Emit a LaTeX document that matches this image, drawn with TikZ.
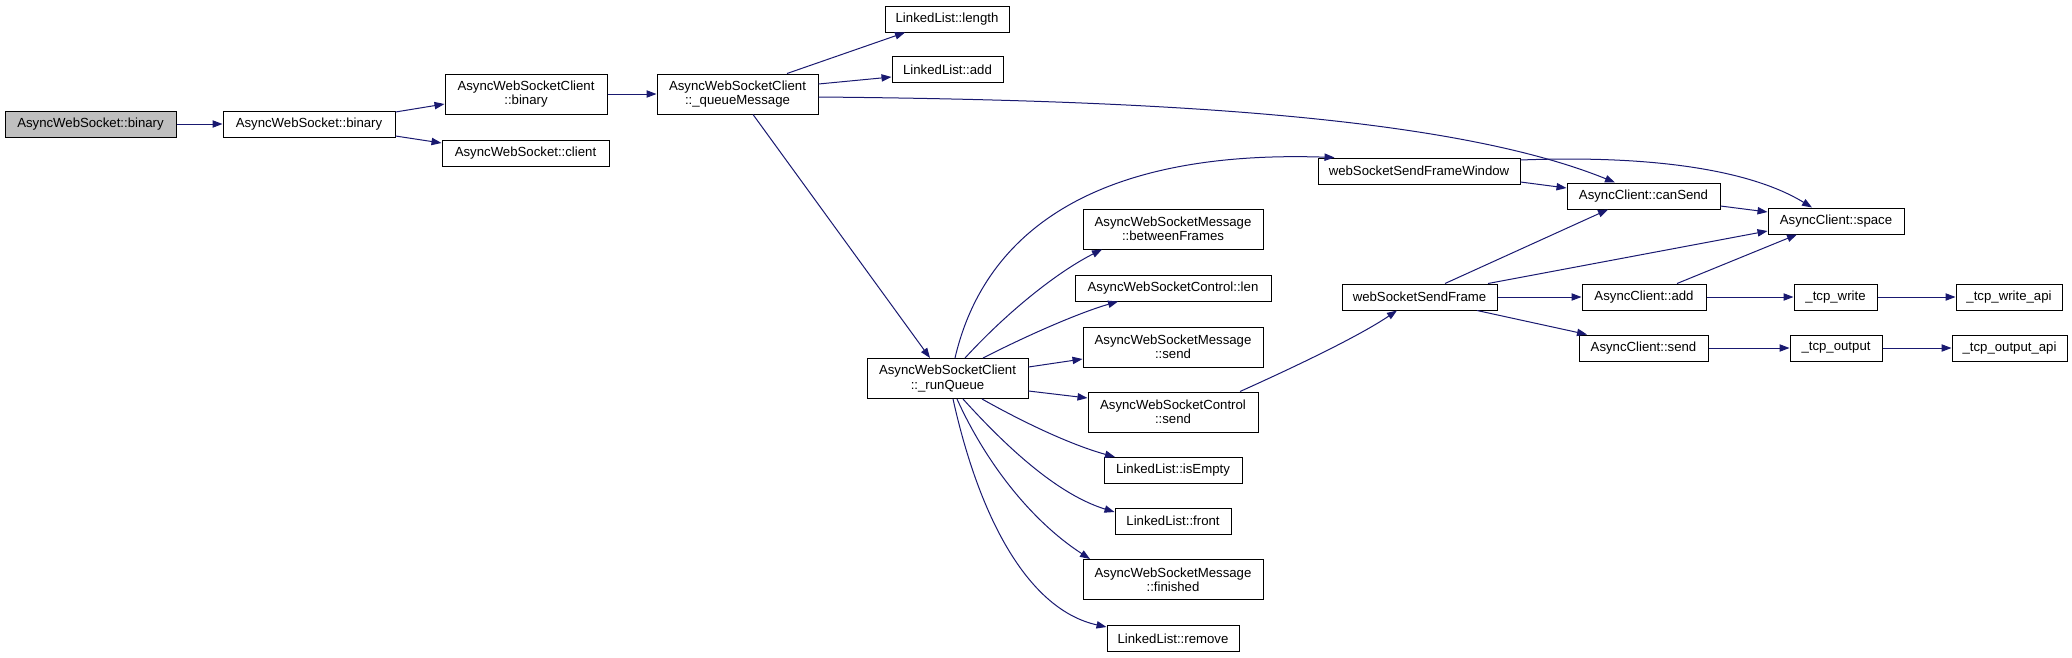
\documentclass[tikz,border=0pt]{standalone}
\usepackage{fontspec}
\setmainfont{Liberation Sans}
\usetikzlibrary{arrows.meta, calc}
\definecolor{edgeblue}{HTML}{191970}
\definecolor{rootgray}{HTML}{BFBFBF}

\begin{document}
\begin{tikzpicture}[x=0.75pt, y=0.75pt,
  fn/.style={draw=black, fill=white, line width=0.75pt, inner sep=0pt,
             align=center, font=\fontsize{9.9}{10.8}\selectfont,
             minimum height=19.5pt},
  fntwo/.style={fn, minimum height=30pt},
  call/.style={draw=edgeblue, line width=0.75pt,
               -{Triangle[length=7.5pt, width=5.5pt]}}]
  \useasboundingbox (0,0) rectangle (2072,-657);
  % Root
  \node[fn, fill=rootgray, minimum width=128.25pt] (root) at (90.5,-124) {AsyncWebSocket::binary};
  \node[fn, minimum width=129pt] (awsBinary) at (309,-124) {AsyncWebSocket::binary};
  \node[fntwo, minimum width=121.5pt] (clientBinary) at (526,-94) {AsyncWebSocketClient\\::binary};
  \node[fn, minimum width=125.25pt] (awsClient) at (525.5,-153) {AsyncWebSocket::client};
  \node[fntwo, minimum width=120.75pt] (queueMsg) at (737.5,-94) {AsyncWebSocketClient\\::\_queueMessage};
  \node[fn, minimum width=93pt] (llLength) at (947,-19) {LinkedList::length};
  \node[fn, minimum width=83.25pt] (llAdd) at (947.5,-69.5) {LinkedList::add};
  \node[fntwo, minimum width=120.75pt] (runQueue) at (947.5,-378.5) {AsyncWebSocketClient\\::\_runQueue};
  % Callees of _runQueue
  \node[fntwo, minimum width=135pt] (betweenFrames) at (1173,-229) {AsyncWebSocketMessage\\::betweenFrames};
  \node[fn, minimum width=147pt] (ctrlLen) at (1173,-288) {AsyncWebSocketControl::len};
  \node[fntwo, minimum width=135pt] (msgSend) at (1173,-347) {AsyncWebSocketMessage\\::send};
  \node[fntwo, minimum width=127.5pt] (ctrlSend) at (1173,-412) {AsyncWebSocketControl\\::send};
  \node[fn, minimum width=103.5pt] (isEmpty) at (1173,-470.5) {LinkedList::isEmpty};
  \node[fn, minimum width=87pt] (front) at (1173,-521) {LinkedList::front};
  \node[fntwo, minimum width=135pt] (finished) at (1173,-579.5) {AsyncWebSocketMessage\\::finished};
  \node[fn, minimum width=99pt] (remove) at (1173,-638.5) {LinkedList::remove};
  % Frame senders
  \node[fn, minimum width=151.5pt] (window) at (1419,-171) {webSocketSendFrameWindow};
  \node[fn, minimum width=116.25pt] (sendFrame) at (1419.5,-297) {webSocketSendFrame};
  % AsyncClient
  \node[fn, minimum width=114.75pt] (canSend) at (1643.5,-196) {AsyncClient::canSend};
  \node[fn, minimum width=93pt] (acAdd) at (1644,-297) {AsyncClient::add};
  \node[fn, minimum width=96.75pt] (acSend) at (1643.5,-348) {AsyncClient::send};
  \node[fn, minimum width=102pt] (space) at (1836,-221) {AsyncClient::space};
  \node[fn, minimum width=62.25pt] (tcpWrite) at (1835.5,-297) {\_tcp\_write};
  \node[fn, minimum width=69pt] (tcpOutput) at (1836,-348) {\_tcp\_output};
  \node[fn, minimum width=79.5pt] (tcpWriteApi) at (2009,-297) {\_tcp\_write\_api};
  \node[fn, minimum width=86.25pt] (tcpOutputApi) at (2009.5,-348) {\_tcp\_output\_api};
  % Calls
  \draw[call] (root) -- (awsBinary);
  \draw[call] ($(awsBinary.east)+(0,12)$) -- ($(clientBinary.west)+(0,-10)$);
  \draw[call] ($(awsBinary.east)+(0,-12)$) -- ($(awsClient.west)+(0,10)$);
  \draw[call] (clientBinary) -- (queueMsg);
  \draw[call] ($(queueMsg.north)+(49.5,0)$) -- ($(llLength.south)+(-42,0)$);
  \draw[call] ($(queueMsg.east)+(0,10)$) -- ($(llAdd.west)+(0,-7.5)$);
  \draw[call] ($(queueMsg.east)+(0,-3)$) .. controls +(332,-3) and +(-165,67) .. ($(canSend.north)+(-28.5,0)$);
  \draw[call] ($(queueMsg.south)+(15.5,0)$) -- ($(runQueue.north)+(-17.5,0)$);
  \draw[call] ($(runQueue.north)+(7.5,0)$) .. controls +(30,129) and +(-235,8) .. ($(window.north west)+(17,0)$);
  \draw[call] ($(runQueue.north)+(17.5,0)$) .. controls +(45,49) and +(-42,-21) .. ($(betweenFrames.south)+(-71,0)$);
  \draw[call] ($(runQueue.north)+(35.5,0)$) .. controls +(47,24) and +(-38,-11) .. ($(ctrlLen.south)+(-55,0)$);
  \draw[call] ($(runQueue.east)+(0,11.5)$) -- ($(msgSend.west)+(0,-12)$);
  \draw[call] ($(runQueue.east)+(0,-12.5)$) -- ($(ctrlSend.west)+(0,14)$);
  \draw[call] ($(runQueue.south)+(34.5,0)$) .. controls +(48,-27) and +(-40,11) .. ($(isEmpty.north)+(-58,0)$);
  \draw[call] ($(runQueue.south)+(15.5,0)$) .. controls +(47,-52) and +(-55,17) .. ($(front.west)+(0,9)$);
  \draw[call] ($(runQueue.south)+(9.5,0)$) .. controls +(28,-62) and +(-60,39) .. ($(finished.north)+(-83,0)$);
  \draw[call] ($(runQueue.south)+(5.5,0)$) .. controls +(27,-122) and +(-77,17) .. ($(remove.west)+(0,11.5)$);
  \draw[call] ($(window.east)+(0,-11)$) -- ($(canSend.west)+(0,8)$);
  \draw[call] ($(window.east)+(0,11)$) .. controls +(130,5) and +(-62,38) .. ($(space.north)+(-24,0)$);
  \draw[call] ($(canSend.east)+(0,-10)$) -- ($(space.west)+(0,9)$);
  \draw[call] ($(ctrlSend.north)+(67,0)$) .. controls +(60,27) and +(-37,-25) .. ($(sendFrame.south)+(-22.5,0)$);
  \draw[call] ($(sendFrame.north)+(25.5,0)$) -- ($(canSend.south)+(-35.5,0)$);
  \draw[call] ($(sendFrame.north)+(68.5,0)$) -- ($(space.west)+(0,-10)$);
  \draw[call] (sendFrame) -- (acAdd);
  \draw[call] ($(sendFrame.south)+(57.5,0)$) -- ($(acSend.north)+(-56.5,0)$);
  \draw[call] ($(acAdd.north)+(33,0)$) -- ($(space.south)+(-39,0)$);
  \draw[call] (acAdd) -- (tcpWrite);
  \draw[call] (acSend) -- (tcpOutput);
  \draw[call] (tcpWrite) -- (tcpWriteApi);
  \draw[call] (tcpOutput) -- (tcpOutputApi);
\end{tikzpicture}
\end{document}
